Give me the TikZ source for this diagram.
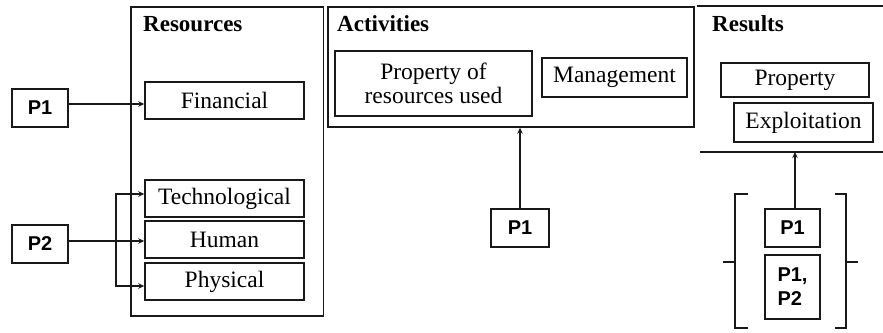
\documentclass[tikz,border=0pt]{standalone}
\usepackage{fontspec}
\setmainfont{Liberation Serif}
\newfontfamily\pfont{Liberation Sans}
\usetikzlibrary{arrows.meta,calc}
\tikzset{
  boxtext/.style={draw=black!90,line width=1.5pt,inner sep=0pt,align=center,
    font=\fontsize{23.5}{24}\selectfont},
  pbox/.style={draw=black!90,line width=1.5pt,inner sep=0pt,align=left,
    font=\pfont\bfseries\fontsize{20}{24}\selectfont},
  panel/.style={draw=black!90,line width=1.7pt,inner sep=0pt},
  header/.style={anchor=base west,inner sep=0pt,font=\bfseries\fontsize{23}{24}\selectfont},
  conn/.style={draw=black!90,line width=1.5pt},
  arr/.style={conn,-{Stealth[length=6pt,width=5.5pt]}},
  brk/.style={draw=black!90,line width=1.5pt}
}
\begin{document}
\begin{tikzpicture}[x=1pt,y=-1pt]
\useasboundingbox (0,0) rectangle (883,332);
% panels
\node[panel,anchor=north west,minimum width=192.5pt,minimum height=309pt] (res) at (130,6) {};
\node[panel,anchor=north west,minimum width=366pt,minimum height=120pt] (act) at (327,6) {};
\coordinate (rtl) at (697,6);
\coordinate (rtr) at (883,6);
\coordinate (rbl) at (700,152);
\coordinate (rbr) at (883,152);
\draw[conn] (rtl) -- (rtr);
\draw[conn] (rbl) -- (rbr);
% headers
\node[header] (hres) at (143,31.5) {Resources};
\node[header] (hact) at (337,31.5) {Activities};
\node[header] (hrsl) at (712,31.5) {Results};
% resources
\node[boxtext,minimum width=159pt,minimum height=37pt] (fin) at (224.5,100.5) {Financial};
\node[boxtext,minimum width=159pt,minimum height=37pt] (tec) at (224.5,198.5) {Technological};
\node[boxtext,minimum width=159pt,minimum height=37pt] (hum) at (224.5,239.5) {Human};
\node[boxtext,minimum width=159pt,minimum height=37pt] (phy) at (224.5,281.5) {Physical};
\node[pbox,minimum width=56pt,minimum height=38pt,align=center] (pa) at (40,108) {P1};
\node[pbox,minimum width=56pt,minimum height=38pt,align=center] (pb) at (40,244) {P2};
% activities
\node[boxtext,minimum width=197pt,minimum height=65pt] (pru) at (433.5,83.5) {Property of\\resources used};
\node[boxtext,minimum width=145pt,minimum height=39pt] (man) at (614.5,77.5) {Management};
\node[pbox,minimum width=58pt,minimum height=38pt,align=center] (pm) at (520,228) {P1};
% results
\node[boxtext,minimum width=148pt,minimum height=34pt] (prop) at (795,80) {Property};
\node[boxtext,minimum width=139pt,minimum height=39pt] (expl) at (803.5,122.5) {Exploitation};
\node[pbox,minimum width=55pt,minimum height=38pt,align=center] (pr1) at (792.5,228) {P1};
\node[pbox,minimum width=55pt,minimum height=64pt,align=left] (pr2) at (792.5,287) {P1,\\P2};
% connectors
\draw[arr] (pa.east) ++(0,-4) coordinate (q1) -- (q1 -| fin.west);
\coordinate (br) at ($(pb.east)+(47,-3)$);
\draw[conn] (pb.east |- br) -- (br);
\draw[arr] (br) |- ($(tec.west)+(0,-4.5)$);
\draw[arr] (br) -- (br -| hum.west);
\draw[arr] (br) |- ($(phy.west)+(0,4.5)$);
\draw[arr] (pm.north) -- (pm.north |- act.south);
\draw[arr] (pr1.north) ++(2.5,0) coordinate (q2) -- (q2 |- rbl);
% brackets
\draw[brk] (748,194) -- (735,194) -- (735,328) -- (748,328);
\draw[brk] (735,262) -- (723,262);
\draw[brk] (835,194) -- (846,194) -- (846,328) -- (835,328);
\draw[brk] (846,262) -- (858,262);
\end{tikzpicture}
\end{document}
